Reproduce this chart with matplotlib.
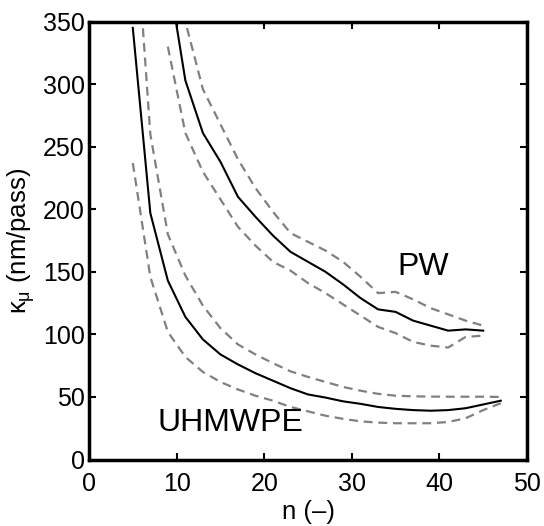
import matplotlib
matplotlib.use("Agg")
import matplotlib.pyplot as plt

plt.rcParams['font.family'] = ['Liberation Sans', 'DejaVu Sans']
plt.rcParams['mathtext.fontset'] = 'custom'
plt.rcParams['mathtext.rm'] = 'Liberation Sans'
plt.rcParams['mathtext.it'] = 'Liberation Sans'

# UHMWPE: mean and bounds (odd n)
n_uh = [5, 7, 9, 11, 13, 15, 17, 19, 21, 23, 25, 27, 29, 31, 33, 35, 37, 39, 41, 43, 45, 47]
uh_mean = [345, 197, 143, 114, 96, 84, 76, 69, 63, 57, 52, 49.5, 46.5, 44.5, 42, 40.5, 39.5, 39, 39.5, 41, 44, 47]
uh_upper = [460, 260, 180, 147, 123, 105, 92, 84, 77, 70.5, 66, 62, 58, 55, 52.5, 51, 50.5, 50.3, 50.2, 50.2, 50.2, 50]
uh_lower = [237, 146, 102, 82, 70, 62, 56, 51, 47, 42, 38.5, 35, 32.5, 30.5, 29.5, 29, 29, 29, 30, 33, 39.5, 45]

# PW: mean and bounds (odd n)
n_pw = [9, 11, 13, 15, 17, 19, 21, 23, 25, 27, 29, 31, 33, 35, 37, 39, 41, 43, 45]
pw_mean = [390, 303, 261, 238, 210, 194, 179, 166, 158, 150, 140, 129, 120, 118, 111, 107, 103, 104, 103]
pw_upper = [480, 350, 296, 268, 240, 217, 198, 181, 174, 167, 158, 146, 133, 134, 128, 121, 116, 111, 107]
pw_lower = [330, 261, 230, 208, 186, 171, 158, 151, 141, 133, 124, 115, 106, 101, 94, 91, 89.5, 98, 99]

fig = plt.figure(figsize=(5.44, 5.26), dpi=100)
ax = fig.add_axes([0.1636, 0.1264, 0.8052, 0.8325])

dash = dict(color='#808080', lw=1.6, dashes=(4, 2.6))
ax.plot(n_uh, uh_upper, **dash)
ax.plot(n_uh, uh_lower, **dash)
ax.plot(n_uh, uh_mean, color='black', lw=1.5)
ax.plot(n_pw, pw_upper, **dash)
ax.plot(n_pw, pw_lower, **dash)
ax.plot(n_pw, pw_mean, color='black', lw=1.5)

ax.text(38.1, 154, 'PW', fontsize=23, ha='center', va='center')
ax.text(16.1, 29, 'UHMWPE', fontsize=23, ha='center', va='center')

ax.set_xlim(0, 50)
ax.set_ylim(0, 350)
ax.set_xticks(range(0, 51, 10))
ax.set_yticks(range(0, 351, 50))
ax.tick_params(direction='in', length=5, width=1.5, labelsize=18,
               top=True, right=True)
ax.tick_params(axis='x', pad=9)
ax.tick_params(axis='y', pad=3)
for s in ax.spines.values():
    s.set_linewidth(2.5)

ax.set_xlabel('n (\u2013)', fontsize=18.5, labelpad=3)
ax.set_ylabel(r'$\kappa_\mu$ (nm/pass)', fontsize=18.5, labelpad=4)

fig.savefig('out.png', dpi=100)
